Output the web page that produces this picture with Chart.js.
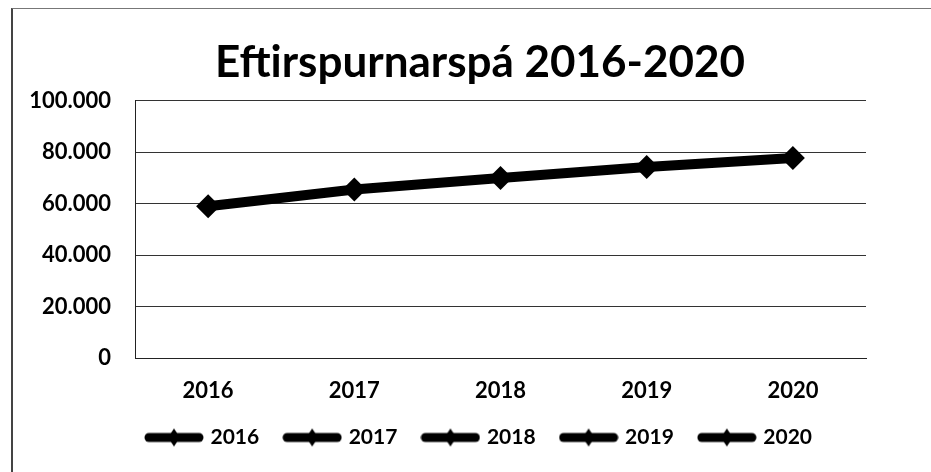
<!DOCTYPE html>
<html lang="is">
<head>
    <meta charset="UTF-8">
    <title>Eftirspurnarspá 2016-2020</title>
    <script src="https://cdn.jsdelivr.net/npm/chart.js"></script>
    <style>
        html, body { margin: 0; padding: 0; background: #fff; }
        .frame {
            position: absolute; left: 11px; top: 8px; width: 920px; height: 464px;
            border-top: 1px solid #777; border-left: 2px solid #444; box-sizing: border-box;
        }
        .wrap { position: absolute; left: 0; top: 0; width: 931px; height: 472px; }
    </style>
</head>
<body>
    <div class="frame"></div>
    <div class="wrap"><canvas id="demandChart" width="931" height="472"></canvas></div>

    <script>
        // values
        const years = ['2016', '2017', '2018', '2019', '2020'];
        const demand = [59000, 65500, 70000, 74300, 77800];
        const yTicks = [0, 20000, 40000, 60000, 80000, 100000];

        const fontFamily = 'Lato, "Open Sans", sans-serif';

        // legend icon: thick line with a diamond in the middle
        function legendIcon() {
            const c = document.createElement('canvas');
            c.width = 60; c.height = 22;
            const ctx = c.getContext('2d');
            ctx.strokeStyle = '#000';
            ctx.lineWidth = 9;
            ctx.lineCap = 'round';
            ctx.beginPath();
            ctx.moveTo(5, 11);
            ctx.lineTo(55, 11);
            ctx.stroke();
            ctx.fillStyle = '#000';
            ctx.beginPath();
            ctx.moveTo(30, 2);
            ctx.lineTo(36, 11);
            ctx.lineTo(30, 20);
            ctx.lineTo(24, 11);
            ctx.closePath();
            ctx.fill();
            return c;
        }
        const icon = legendIcon();

        // the y axis is kept narrow so title/legend centre like the original;
        // widen its label clip area afterwards so the tick labels are not cut
        const widenYLabels = {
            id: 'widenYLabels',
            afterLayout(chart) {
                chart.scales.y.left = 14;
            }
        };

        new Chart(document.getElementById('demandChart'), {
            type: 'line',
            data: {
                labels: years,
                datasets: [{
                    label: 'Eftirspurn',
                    data: demand,
                    borderColor: '#000',
                    backgroundColor: '#000',
                    borderWidth: 10,
                    pointStyle: 'rectRot',
                    pointRadius: 12,
                    pointHoverRadius: 12,
                    pointBackgroundColor: '#000',
                    pointBorderWidth: 0,
                    tension: 0
                }]
            },
            plugins: [widenYLabels],
            options: {
                responsive: false,
                animation: false,
                layout: { padding: { left: 94, right: 65, top: 10, bottom: 14 } },
                plugins: {
                    title: {
                        display: true,
                        text: 'Eftirspurnarspá 2016-2020',
                        color: '#000',
                        font: { family: fontFamily, size: 44, weight: 'bold' },
                        padding: { top: 26, bottom: 12 }
                    },
                    legend: {
                        position: 'bottom',
                        labels: {
                            usePointStyle: true,
                            pointStyleWidth: 52,
                            color: '#000',
                            font: { family: fontFamily, size: 21, weight: 'bold' },
                            padding: 27,
                            generateLabels: () => years.map(y => ({
                                text: y,
                                pointStyle: icon,
                                fillStyle: '#000',
                                strokeStyle: '#000',
                                lineWidth: 0,
                                hidden: false
                            }))
                        },
                        onClick: () => {}
                    },
                    tooltip: { enabled: false }
                },
                scales: {
                    x: {
                        offset: true,
                        afterFit: axis => { axis.height = 42; },
                        grid: { display: false, drawTicks: false },
                        border: { display: true, color: '#222', width: 1 },
                        ticks: {
                            color: '#000',
                            padding: 20,
                            maxRotation: 0,
                            font: { family: fontFamily, size: 22, weight: 'bold' }
                        }
                    },
                    y: {
                        min: 0,
                        max: 100000,
                        afterBuildTicks: axis => {
                            axis.ticks = yTicks.map(v => ({ value: v }));
                        },
                        afterFit: axis => { axis.width = 41; },
                        grid: { color: '#333', lineWidth: 1, drawTicks: false },
                        border: { display: true, color: '#222', width: 1 },
                        ticks: {
                            color: '#000',
                            padding: 24,
                            font: { family: fontFamily, size: 22, weight: 'bold' },
                            callback: v => v.toLocaleString('de-DE')
                        }
                    }
                }
            }
        });
    </script>
</body>
</html>
